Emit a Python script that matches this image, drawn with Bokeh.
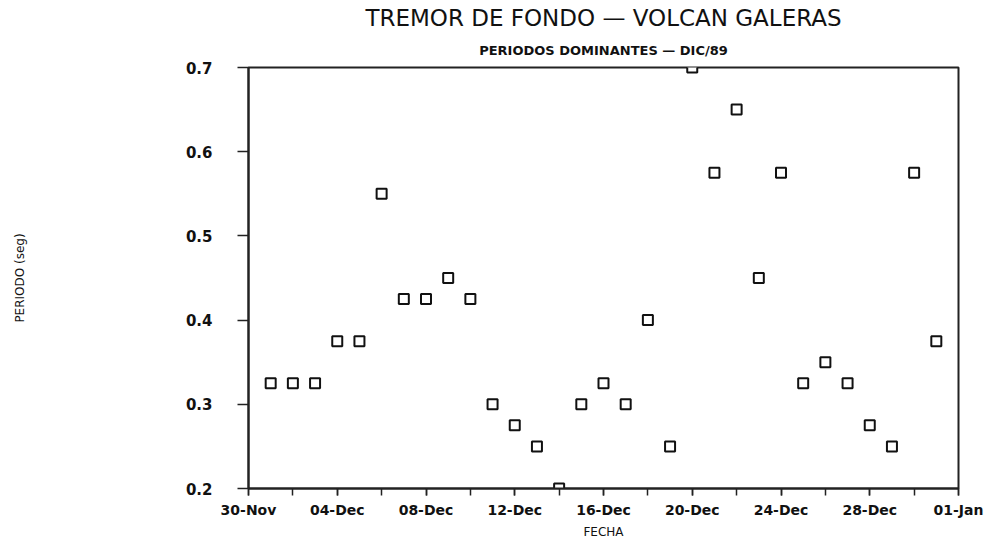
from datetime import datetime, timedelta
from bokeh.plotting import figure
from bokeh.models import FixedTicker, DatetimeTickFormatter, Title, Range1d
from bokeh.embed import file_html
from bokeh.resources import INLINE

# ---- data ----
dates = ["1989-12-%02d" % d for d in range(1, 32)]
periods = [0.325, 0.325, 0.325, 0.375, 0.375, 0.55, 0.425, 0.425, 0.45, 0.425,
           0.30, 0.275, 0.25, 0.20, 0.30, 0.325, 0.30, 0.40, 0.25, 0.70,
           0.575, 0.65, 0.45, 0.575, 0.325, 0.35, 0.325, 0.275, 0.25, 0.575,
           0.375]
y_ticks = [0.2, 0.3, 0.4, 0.5, 0.6, 0.7]
x_start = "1989-11-30"
x_end = "1990-01-01"

title_text = "TREMOR DE FONDO \u2014 VOLCAN GALERAS"
subtitle_text = "PERIODOS DOMINANTES \u2014 DIC/89"
x_label = "FECHA"
y_label = "PERIODO (seg)"

# ---- build ----
def ms(d):
    return (d - datetime(1970, 1, 1)).total_seconds() * 1000.0

x_dates = [datetime.strptime(d, "%Y-%m-%d") for d in dates]
t0 = datetime.strptime(x_start, "%Y-%m-%d")
t1 = datetime.strptime(x_end, "%Y-%m-%d")
ndays = (t1 - t0).days
major = [ms(t0 + timedelta(days=k)) for k in range(0, ndays + 1, 4)]
minor = [ms(t0 + timedelta(days=k)) for k in range(0, ndays + 1, 2)]

FONT = "DejaVu Sans"

p = figure(width=1005, height=541, x_axis_type="datetime",
           output_backend="svg", toolbar_location=None,
           x_range=Range1d(ms(t0), ms(t1)), y_range=Range1d(0.2, 0.7),
           min_border_left=248, min_border_right=47, min_border_top=67,
           min_border_bottom=53)
p.title.text = ""
p.title.visible = False

p.add_layout(Title(text=subtitle_text, align="center", text_font=FONT,
                   text_font_size="13px", text_font_style="bold",
                   text_color="#111111", standoff=19), "above")
p.add_layout(Title(text=title_text, align="center", text_font=FONT,
                   text_font_size="23px", text_font_style="normal",
                   text_color="#111111", standoff=1), "above")

p.scatter(x_dates, periods, marker="square", size=10, fill_color="white",
          line_color="#111111", line_width=2)

p.xgrid.visible = False
p.ygrid.visible = False
p.outline_line_color = "#222222"
p.outline_line_width = 2
p.background_fill_color = "white"
p.border_fill_color = "white"

xa = p.xaxis[0]
xa.ticker = FixedTicker(ticks=major, minor_ticks=minor)
fmt = "%d-%b"
xa.formatter = DatetimeTickFormatter(milliseconds=fmt, seconds=fmt, minsec=fmt,
                                     minutes=fmt, hourmin=fmt, hours=fmt,
                                     days=fmt, months=fmt, years=fmt)
xa.major_tick_in = 0
xa.major_tick_out = 7
xa.minor_tick_in = 0
xa.minor_tick_out = 7
xa.minor_tick_line_color = "#222222"
xa.major_tick_line_color = "#222222"
xa.major_tick_line_width = 1.5
xa.minor_tick_line_width = 1.5
xa.axis_line_color = "#222222"
xa.axis_line_width = 2
xa.major_label_standoff = 6
xa.major_label_text_font = FONT
xa.major_label_text_font_size = "14px"
xa.major_label_text_font_style = "bold"
xa.major_label_text_color = "#111111"
xa.axis_label = x_label
xa.axis_label_standoff = 4
xa.axis_label_text_font = FONT
xa.axis_label_text_font_size = "12px"
xa.axis_label_text_font_style = "normal"
xa.axis_label_text_color = "#111111"

ya = p.yaxis[0]
ya.ticker = FixedTicker(ticks=y_ticks, minor_ticks=[])
ya.major_label_overrides = {v: "%.1f" % v for v in y_ticks}
ya.major_tick_in = 0
ya.major_tick_out = 11
ya.major_tick_line_color = "#222222"
ya.major_tick_line_width = 1.5
ya.axis_line_color = "#222222"
ya.axis_line_width = 2
ya.major_label_standoff = 25
ya.major_label_text_font = FONT
ya.major_label_text_font_size = "15px"
ya.major_label_text_font_style = "bold"
ya.major_label_text_color = "#111111"
ya.axis_label = y_label
ya.axis_label_standoff = 156
ya.axis_label_text_font = FONT
ya.axis_label_text_font_size = "12px"
ya.axis_label_text_font_style = "normal"
ya.axis_label_text_color = "#111111"

open("out.html", "w").write(file_html(p, INLINE))
